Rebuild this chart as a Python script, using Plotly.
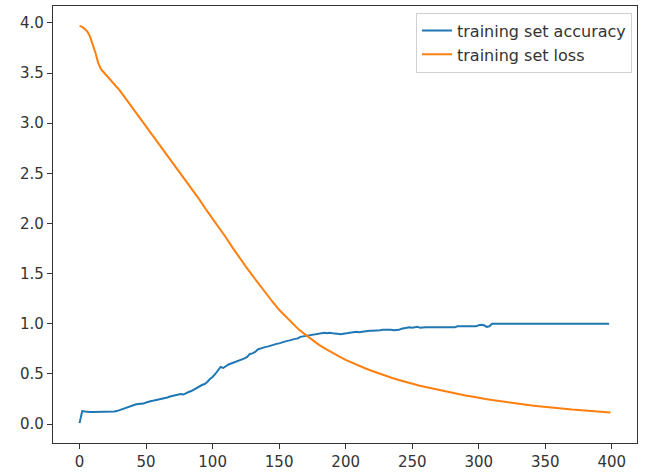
import plotly.graph_objects as go

# ---- data ----
acc_epochs = list(range(0, 400, 2))
accuracy = [
    0.01, 0.13, 0.125, 0.12, 0.12, 0.12, 0.12, 0.12, 0.12, 0.12,
    0.12, 0.12, 0.12, 0.125, 0.13, 0.14, 0.15, 0.16, 0.17, 0.18,
    0.19, 0.195, 0.2, 0.2, 0.205, 0.215, 0.225, 0.23, 0.235, 0.24,
    0.245, 0.255, 0.26, 0.265, 0.275, 0.28, 0.285, 0.29, 0.3, 0.295,
    0.31, 0.32, 0.33, 0.345, 0.36, 0.38, 0.39, 0.4, 0.42, 0.45,
    0.47, 0.5, 0.54, 0.57, 0.56, 0.58, 0.595, 0.605, 0.615, 0.625,
    0.635, 0.64, 0.655, 0.67, 0.7, 0.705, 0.72, 0.745, 0.755, 0.76,
    0.77, 0.775, 0.785, 0.79, 0.8, 0.805, 0.815, 0.825, 0.83, 0.835,
    0.845, 0.85, 0.855, 0.87, 0.875, 0.88, 0.885, 0.89, 0.895, 0.9,
    0.905, 0.905, 0.91, 0.905, 0.91, 0.905, 0.905, 0.9, 0.895, 0.9,
    0.905, 0.91, 0.915, 0.915, 0.92, 0.915, 0.92, 0.925, 0.925, 0.93,
    0.93, 0.93, 0.935, 0.935, 0.94, 0.94, 0.945, 0.94, 0.935, 0.935,
    0.94, 0.95, 0.955, 0.965, 0.965, 0.96, 0.965, 0.97, 0.96, 0.965,
    0.965, 0.965, 0.965, 0.965, 0.965, 0.965, 0.965, 0.965, 0.965, 0.965,
    0.965, 0.965, 0.975, 0.975, 0.975, 0.975, 0.975, 0.975, 0.975, 0.975,
    0.985, 0.99, 0.985, 0.97, 0.975, 1.0, 1.0, 1.0, 1.0, 1.0,
    1.0, 1.0, 1.0, 1.0, 1.0, 1.0, 1.0, 1.0, 1.0, 1.0,
    1.0, 1.0, 1.0, 1.0, 1.0, 1.0, 1.0, 1.0, 1.0, 1.0,
    1.0, 1.0, 1.0, 1.0, 1.0, 1.0, 1.0, 1.0, 1.0, 1.0,
    1.0, 1.0, 1.0, 1.0, 1.0, 1.0, 1.0, 1.0, 1.0, 1.0,
]

loss_epochs = [0, 2, 4, 6, 8, 10, 12, 14, 16, 18, 20, 25, 30, 35, 40, 45, 50,
               55, 60, 65, 70, 75, 80, 85, 90, 95, 100, 105, 110, 115, 120,
               125, 130, 135, 140, 145, 150, 155, 160, 165, 170, 175, 180,
               185, 190, 195, 200, 205, 210, 215, 220, 225, 230, 235, 240,
               245, 250, 255, 260, 265, 270, 275, 280, 285, 290, 295, 300,
               305, 310, 315, 320, 325, 330, 335, 340, 345, 350, 355, 360,
               365, 370, 375, 380, 385, 390, 395, 399]
loss = [3.97, 3.96, 3.94, 3.91, 3.86, 3.79, 3.70, 3.60, 3.54, 3.51, 3.48,
        3.41, 3.33, 3.24, 3.15, 3.06, 2.97, 2.88, 2.79, 2.70, 2.61, 2.52,
        2.43, 2.33, 2.24, 2.14, 2.05, 1.95, 1.86, 1.76, 1.66, 1.57, 1.48,
        1.39, 1.30, 1.22, 1.14, 1.07, 1.00, 0.94, 0.89, 0.84, 0.79, 0.75,
        0.71, 0.675, 0.64, 0.61, 0.58, 0.555, 0.53, 0.505, 0.48, 0.46, 0.44,
        0.42, 0.40, 0.385, 0.37, 0.355, 0.34, 0.325, 0.31, 0.30, 0.285,
        0.275, 0.26, 0.25, 0.24, 0.23, 0.22, 0.21, 0.20, 0.195, 0.185,
        0.178, 0.17, 0.163, 0.157, 0.15, 0.145, 0.14, 0.135, 0.13, 0.125,
        0.12, 0.117]

x_ticks = [0, 50, 100, 150, 200, 250, 300, 350, 400]
y_ticks = [0.0, 0.5, 1.0, 1.5, 2.0, 2.5, 3.0, 3.5, 4.0]

# ---- figure ----
fig = go.Figure()
fig.add_trace(go.Scatter(x=acc_epochs, y=accuracy, mode="lines",
                         name="training set accuracy", legendgroup="a",
                         line=dict(color="#1f77b4", width=2)))
fig.add_trace(go.Scatter(x=loss_epochs, y=loss, mode="lines",
                         name="training set loss", legendgroup="b",
                         line=dict(color="#ff7f0e", width=2)))

axis_common = dict(showline=True, linecolor="#333333", linewidth=1.3, mirror=True,
                   ticks="outside", ticklen=5, tickwidth=1.3, tickcolor="#333333",
                   showgrid=False, zeroline=False, automargin=False,
                   tickfont=dict(family="DejaVu Sans", size=15, color="#333333"))

fig.update_xaxes(range=[-19.95, 418.95], tickvals=x_ticks,
                 ticktext=[str(v) for v in x_ticks], **axis_common)
fig.update_yaxes(range=[-0.188, 4.168], tickvals=y_ticks,
                 ticktext=[f"{v:.1f}" for v in y_ticks], **axis_common)

fig.update_layout(
    width=645, height=472,
    margin=dict(l=53, r=8, t=6, b=29),
    paper_bgcolor="white", plot_bgcolor="white",
    font=dict(family="DejaVu Sans", color="#333333"),
    legend=dict(x=0.9914, y=0.985, xanchor="right", yanchor="top",
                bgcolor="rgba(255,255,255,0.8)", bordercolor="#d0d0d0",
                borderwidth=1, font=dict(family="DejaVu Sans", size=16, color="#333333"),
                traceorder="grouped", tracegroupgap=0),
    showlegend=True,
)

fig.write_html("out.html", config={"displayModeBar": False},
               post_script="document.body.style.margin='0px';document.body.style.padding='0px';")
